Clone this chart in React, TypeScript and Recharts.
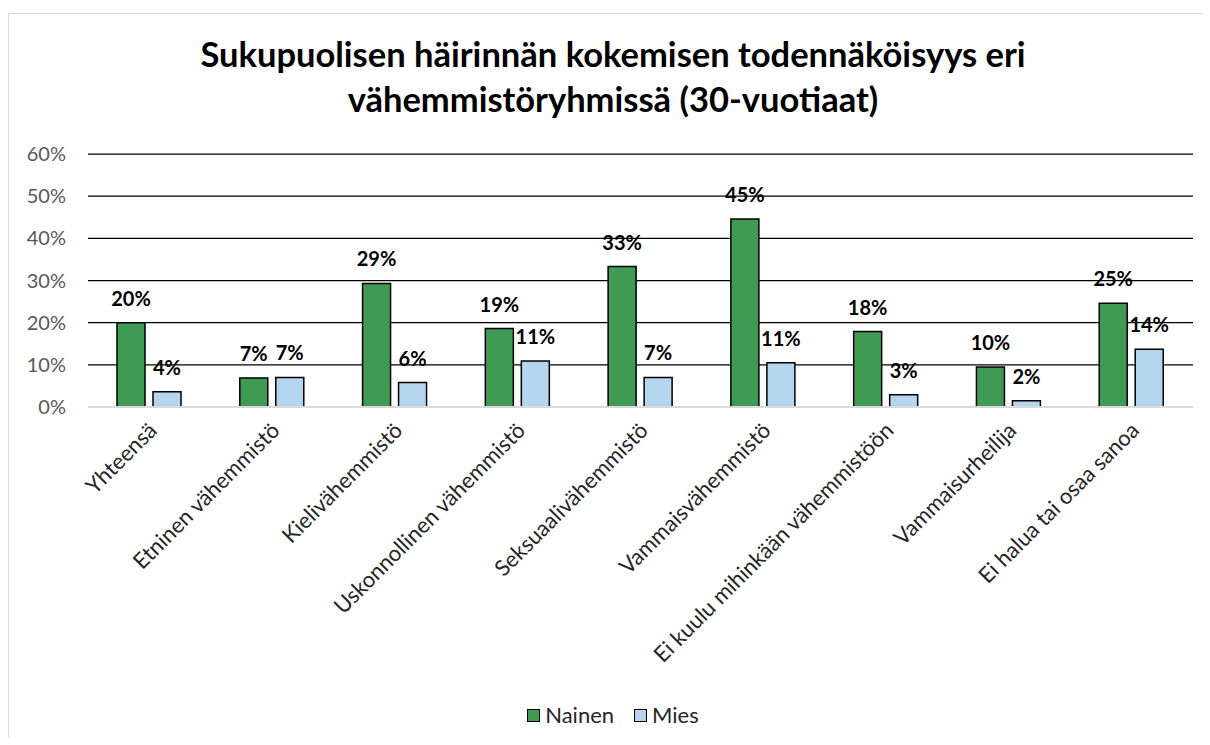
import React from "react";
import { BarChart, Bar, XAxis, YAxis, CartesianGrid, Legend, LabelList } from "recharts";

const categories = [
  "Yhteensä",
  "Etninen vähemmistö",
  "Kielivähemmistö",
  "Uskonnollinen vähemmistö",
  "Seksuaalivähemmistö",
  "Vammaisvähemmistö",
  "Ei kuulu mihinkään vähemmistöön",
  "Vammaisurheilija",
  "Ei halua tai osaa sanoa",
];
const nainen = [20.0, 6.9, 29.3, 18.6, 33.3, 44.6, 17.9, 9.5, 24.6];
const mies = [3.6, 7.0, 5.8, 10.9, 7.0, 10.5, 2.9, 1.5, 13.7];
const yTicks = [0, 10, 20, 30, 40, 50, 60];

const data = categories.map((c, i) => ({ name: c, Nainen: nainen[i], Mies: mies[i] }));

const FONT = "Lato, 'Open Sans', sans-serif";
const GREEN = "#3f9b53";
const BLUE = "#b4d5ee";

const XTick = (props: any) => {
  const { x, y, payload } = props;
  const px = x - 2;
  const py = y + 6;
  return (
    <text
      x={px}
      y={py}
      transform={`rotate(-45 ${px} ${py})`}
      textAnchor="end"
      dy="0.7em"
      fontSize={22}
      fontFamily={FONT}
      fill="#262626"
    >
      {payload.value}
    </text>
  );
};

const ValueLabel = (props: any) => {
  const { x, y, width, value } = props;
  return (
    <text
      x={x + width / 2}
      y={y - 17}
      textAnchor="middle"
      fontSize={20}
      fontWeight="bold"
      fontFamily={FONT}
      fill="#000"
    >
      {`${Math.round(value)}%`}
    </text>
  );
};

const LegendContent = () => (
  <div
    style={{
      display: "flex",
      justifyContent: "center",
      alignItems: "center",
      fontFamily: FONT,
      fontSize: 22,
      lineHeight: "26px",
      color: "#262626",
      paddingLeft: 24,
      paddingTop: 7,
    }}
  >
    {[
      { label: "Nainen", color: GREEN },
      { label: "Mies", color: BLUE },
    ].map((it, i) => (
      <span key={it.label} style={{ display: "flex", alignItems: "center", marginRight: i === 0 ? 20 : 0 }}>
        <span
          style={{
            display: "inline-block",
            width: 11,
            height: 11,
            background: it.color,
            border: "1.5px solid #000",
            marginRight: 5,
          }}
        />
        {it.label}
      </span>
    ))}
  </div>
);

export default function App() {
  return (
    <div
      style={{
        position: "relative",
        top: 5,
        width: 1202,
        height: 732,
        marginBottom: -3,
        borderTop: "1px solid #d9d9d9",
        borderLeft: "1px solid #d9d9d9",
        borderRight: "1px solid #d9d9d9",
        boxSizing: "border-box",
        background: "#fff",
      }}
    >
      <div
        style={{
          position: "absolute",
          left: 8,
          right: 0,
          top: 17,
          textAlign: "center",
          fontFamily: FONT,
          fontWeight: "bold",
          fontSize: 34.5,
          lineHeight: "45px",
          color: "#000",
        }}
      >
        Sukupuolisen häirinnän kokemisen todennäköisyys eri
        <br />
        vähemmistöryhmissä (30-vuotiaat)
      </div>
      <BarChart
        width={1198}
        height={731}
        data={data}
        margin={{ top: 140, right: 14, left: 0, bottom: 10 }}
        barSize={28}
        barGap={8}
      >
        <CartesianGrid vertical={false} stroke="#000" strokeWidth={1.25} />
        <XAxis
          dataKey="name"
          interval={0}
          height={288}
          tick={<XTick />}
          tickLine={false}
          axisLine={{ stroke: "#d9d9d9", strokeWidth: 2 }}
        />
        <YAxis
          width={79}
          domain={[0, 60]}
          ticks={yTicks}
          tickFormatter={(v: number) => `${v}%`}
          axisLine={false}
          tickLine={false}
          tickSize={0}
          tickMargin={22}
          tick={{ fontSize: 20, fontFamily: FONT, fill: "#595959" }}
        />
        <Legend verticalAlign="bottom" height={40} content={<LegendContent />} />
        <Bar dataKey="Nainen" fill={GREEN} stroke="#000" strokeWidth={1.5} isAnimationActive={false}>
          <LabelList dataKey="Nainen" content={<ValueLabel />} />
        </Bar>
        <Bar dataKey="Mies" fill={BLUE} stroke="#000" strokeWidth={1.5} isAnimationActive={false}>
          <LabelList dataKey="Mies" content={<ValueLabel />} />
        </Bar>
      </BarChart>
    </div>
  );
}
